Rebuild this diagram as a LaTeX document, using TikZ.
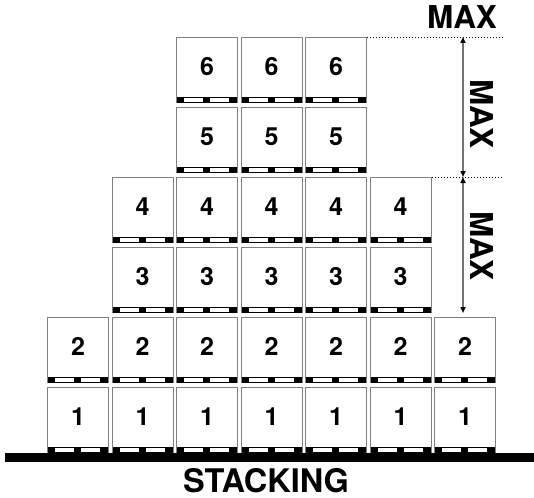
\documentclass[tikz,border=0pt]{standalone}
\usepackage{fontspec}
\setmainfont{TeX Gyre Heros}
\usetikzlibrary{arrows.meta}
\begin{document}
\begin{tikzpicture}[x=1pt,y=-1pt,
  crate/.style={draw=gray,line width=1.2pt,fill=white,minimum width=61pt,minimum height=65pt,inner sep=0pt,anchor=north west},
  num/.style={font=\bfseries\fontsize{25}{25}\selectfont,inner sep=0pt},
  biglab/.style={font=\bfseries\fontsize{31.5}{31.5}\selectfont,inner sep=0pt},
  dim/.style={draw=gray!90!black,line width=1.6pt,{Triangle[black,length=6pt,width=5pt]}-{Triangle[black,length=6pt,width=5pt]}},
  guide/.style={draw=black,line width=0.6pt,dash pattern=on 1pt off 2pt}]
\useasboundingbox (0,0) rectangle (534,497);
% floor
\fill[black] (5,453) rectangle (534,462);
% crates: row j, columns from a to b
\foreach \j/\a/\b in {1/1/7,2/1/7,3/2/6,4/2/6,5/3/5,6/3/5}{
  \foreach \i in {\a,...,\b}{
    \pgfmathsetmacro{\cx}{47+64.5*(\i-1)}
    \pgfmathsetmacro{\cy}{387-70*(\j-1)}
    \node[crate] (b-\j-\i) at (\cx,\cy) {};
    \fill[black] ([xshift=1pt,yshift=6pt]b-\j-\i.south west) rectangle ([xshift=-1pt]b-\j-\i.south east);
    \fill[white] ([xshift=8pt,yshift=4.8pt]b-\j-\i.south west) rectangle ([xshift=27pt,yshift=1.3pt]b-\j-\i.south west);
    \fill[white] ([xshift=34pt,yshift=4.8pt]b-\j-\i.south west) rectangle ([xshift=53pt,yshift=1.3pt]b-\j-\i.south west);
    \node[num] (n-\j-\i) at ([yshift=-29.5pt]b-\j-\i.north) {\j};
  }
}
% dimension markers
\coordinate (t) at (463,37);
\coordinate (m) at (463,177);
\coordinate (u) at (463,313);
\coordinate (g1a) at (367,37);
\coordinate (g1b) at (503,37);
\coordinate (g2a) at (432,177);
\coordinate (g2b) at (503,177);
\draw[guide] (g1a) -- (g1b);
\draw[guide] (g2a) -- (g2b);
\draw[dim] (t) -- (m);
\draw[dim] (m) -- (u);
\node[biglab] (maxtop) at (462,17.5) {MAX};
\node[biglab,rotate=-90] (max1) at (482,114) {MAX};
\node[biglab,rotate=-90] (max2) at (482,246) {MAX};
\node[biglab,font=\bfseries\fontsize{32.5}{32.5}\selectfont] (stack) at (266,480.5) {STACKING};
\end{tikzpicture}
\end{document}
